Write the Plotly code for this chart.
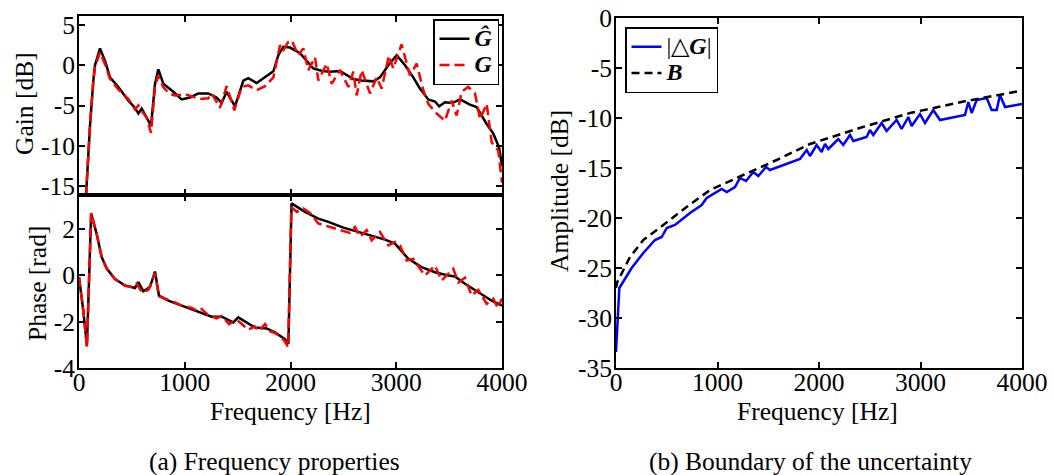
import plotly.graph_objects as go

# ---------------- data ----------------
# Gain of estimated model G-hat (black)
gh_freq = [50, 104, 135, 151, 199, 250, 293, 372, 467, 530, 561, 593, 630, 681, 719, 750, 797, 892, 971,
           1050, 1128, 1223, 1300, 1349, 1396, 1475, 1554, 1601, 1680, 1759, 1838, 1885, 1932, 1995, 2090,
           2216, 2300, 2374, 2468, 2594, 2673, 2783, 2846, 2925, 3004, 3083, 3161, 3224, 3303, 3366, 3407,
           3460, 3530, 3603, 3697, 3760, 3855, 3918, 3972, 4000]
gh_gain = [-20, -7.5, -2.0, 0.0, 2.1, 0.4, -1.5, -2.7, -4.4, -5.3, -6.0, -5.4, -6.3, -7.5, -2.3, -0.5, -2.3, -3.3,
           -4.25, -4.0, -3.5, -3.5, -4.0, -4.7, -3.3, -5.1, -1.9, -1.6, -2.2, -1.5, -0.75, 1.25, 2.3, 2.2, 1.5,
           -0.4, -0.7, -0.8, -0.7, -1.7, -1.9, -2.0, -1.5, 0.0, 1.25, 0.0, -1.5, -2.9, -4.25, -4.5, -5.1,
           -4.6, -4.7, -4.25, -4.9, -5.2, -7.3, -8.5, -10.2, -12.5]

# Gain of measured G (red dashed)
g_freq = [50, 104, 135, 151, 199, 250, 293, 372, 467, 530, 561, 593, 640, 681, 719, 750, 797, 850, 908,
          1002, 1144, 1223, 1255, 1333, 1396, 1469, 1538, 1601, 1680, 1759, 1838, 1901, 1935, 1979, 2011,
          2074, 2121, 2168, 2232, 2263, 2342, 2389, 2468, 2547, 2594, 2626, 2673, 2752, 2815, 2862, 2930,
          2972, 3050, 3130, 3193, 3256, 3303, 3382, 3461, 3524, 3571, 3619, 3681, 3745, 3792, 3855, 3903,
          3965, 4000]
g_gain = [-20, -7.5, -2.0, -0.2, 1.6, 0.0, -1.7, -3.0, -4.2, -5.5, -5.0, -5.7, -6.5, -8.4, -2.6, -1.3, -2.7,
          -3.5, -3.75, -3.6, -4.2, -4.1, -3.5, -5.3, -2.6, -5.6, -2.7, -2.5, -3.1, -2.6, -1.5, 2.5, 1.9, 2.9,
          3.1, 1.25, 2.1, -0.6, 1.0, -1.9, 0.2, -2.3, -0.6, -2.7, -0.8, -3.75, -0.6, -3.5, -1.5, -2.9, 1.2,
          -0.4, 2.6, -1.25, 0.2, -3.1, -4.8, -6.0, -6.9, -4.4, -6.25, -3.3, -2.7, -3.5, -6.7, -4.8, -9.6,
          -10.6, -14.6]

# Phase of G-hat (black)
ghp_freq = [0, 40, 75, 115, 167, 214, 262, 340, 435, 530, 561, 608, 671, 719, 756, 845, 971, 1066, 1160,
            1255, 1349, 1459, 1506, 1570, 1664, 1775, 1853, 1948, 1980, 2010, 2137, 2263, 2358, 2500, 2641,
            2768, 2894, 2988, 3114, 3240, 3366, 3492, 3555, 3650, 3776, 3903, 4000]
ghp_phase = [-0.07, -1.5, -3.04, 2.68, 1.8, 0.8, 0.3, -0.15, -0.43, -0.54, -0.29, -0.68, -0.5, 0.17, -0.87,
             -1.09, -1.3, -1.45, -1.6, -1.78, -1.78, -2.03, -1.81, -2.0, -2.25, -2.29, -2.46, -2.75, -2.95,
             3.12, 2.75, 2.46, 2.32, 2.07, 1.88, 1.74, 1.55, 1.38, 0.72, 0.36, 0.14, 0.0, -0.04, -0.36, -0.72,
             -1.09, -1.3]

# Phase of G (red dashed)
gp_freq = [0, 40, 75, 115, 167, 214, 262, 340, 435, 500, 545, 600, 660, 719, 756, 845, 900, 971, 1066,
           1130, 1160, 1220, 1300, 1349, 1420, 1459, 1500, 1540, 1600, 1660, 1700, 1760, 1800, 1860, 1940,
           1978, 2008, 2060, 2121, 2184, 2263, 2421, 2563, 2610, 2657, 2720, 2768, 2846, 2925, 2990, 3035,
           3099, 3161, 3200, 3272, 3366, 3429, 3539, 3587, 3650, 3713, 3776, 3855, 3918, 3960, 4000]
gp_phase = [-0.07, -1.5, -3.1, 2.7, 1.8, 0.8, 0.3, -0.15, -0.45, -0.5, -0.35, -0.75, -0.6, 0.1, -0.9, -1.05,
            -1.15, -1.3, -1.4, -1.55, -1.45, -1.7, -1.85, -1.75, -2.1, -2.0, -1.95, -2.1, -2.35, -2.2, -2.4,
            -2.1, -2.4, -2.5, -2.8, -3.1, 2.95, 2.75, 2.9, 2.7, 2.25, 2.03, 1.84, 2.1, 1.68, 1.96, 1.52, 1.88,
            1.3, 1.45, 1.3, 0.65, 0.72, 0.45, 0.0, 0.43, -0.22, 0.29, -0.3, -0.1, -0.87, -0.62, -1.23, -1.0,
            -1.4, -1.0]

# |dG| (blue)
dg_freq = [0, 33, 154, 269, 384, 450, 500, 581, 729, 844, 894, 1041, 1091, 1172, 1222, 1281, 1353, 1402,
           1478, 1517, 1813, 1879, 1911, 1977, 2026, 2059, 2092, 2190, 2239, 2305, 2338, 2469, 2502, 2535,
           2617, 2666, 2765, 2814, 2880, 2913, 2995, 3044, 3126, 3192, 3438, 3471, 3504, 3553, 3652, 3701,
           3751, 3783, 3833, 4000]
dg_amp = [-33.4, -27.0, -25.0, -23.5, -22.2, -21.9, -21.0, -20.7, -19.5, -18.7, -18.0, -17.1, -17.4, -16.9,
          -16.0, -16.3, -15.4, -15.8, -14.9, -15.2, -14.1, -13.2, -13.8, -12.7, -13.4, -12.6, -13.1, -12.1,
          -12.7, -11.7, -12.3, -11.9, -11.2, -11.7, -10.5, -11.3, -10.2, -11.1, -9.9, -10.8, -9.6, -10.5,
          -9.2, -10.2, -9.7, -8.4, -9.5, -8.2, -8.0, -9.2, -9.2, -7.7, -8.9, -8.6]

# Boundary B (black dashed)
b_freq = [0, 13, 138, 269, 466, 696, 926, 1254, 1583, 1911, 2400, 2897, 3450, 3980, 4000]
b_amp = [-27.0, -26.4, -23.9, -22.2, -20.7, -18.9, -17.2, -15.7, -14.2, -12.6, -11.0, -9.5, -8.3, -7.3, -7.27]

x_tickvals = [0, 1000, 2000, 3000, 4000]
x_ticktext = ["0", "1000", "2000", "3000", "4000"]
gain_tickvals = [5, 0, -5, -10, -15]
gain_ticktext = ["5", "0", "-5", "-10", "-15"]
phase_tickvals = [2, 0, -2, -4]
phase_ticktext = ["2", "0", "-2", "-4"]
amp_tickvals = [0, -5, -10, -15, -20, -25, -30, -35]
amp_ticktext = ["0", "-5", "-10", "-15", "-20", "-25", "-30", "-35"]

# ---------------- layout helpers ----------------
W, H = 1054, 475
FONT = "Liberation Serif"
FS = 25.5


def px_x(p):
    return p / W


def px_y(p):
    return 1 - p / H


def big(label):
    return '<span style="font-size:24px">' + label + '</span>'


fig = go.Figure()

fig.add_trace(go.Scatter(x=gh_freq, y=gh_gain, mode="lines", name=big("<b><i>Ĝ</i></b>"),
                         line=dict(color="black", width=2.5), xaxis="x", yaxis="y", legend="legend"))
fig.add_trace(go.Scatter(x=g_freq, y=g_gain, mode="lines", name=big("<b><i>G</i></b>"),
                         line=dict(color="#ff0000", width=2.5, dash="10px,5px"), xaxis="x", yaxis="y",
                         legend="legend"))
fig.add_trace(go.Scatter(x=ghp_freq, y=ghp_phase, mode="lines", showlegend=False,
                         line=dict(color="black", width=2.5), xaxis="x2", yaxis="y2"))
fig.add_trace(go.Scatter(x=gp_freq, y=gp_phase, mode="lines", showlegend=False,
                         line=dict(color="#ff0000", width=2.5, dash="10px,5px"), xaxis="x2", yaxis="y2"))
fig.add_trace(go.Scatter(x=dg_freq, y=dg_amp, mode="lines", name=big("|△<b><i>G</i></b>|"),
                         line=dict(color="#0000ff", width=2.5), xaxis="x3", yaxis="y3", legend="legend2"))
fig.add_trace(go.Scatter(x=b_freq, y=b_amp, mode="lines", name=big("<b><i>B</i></b>"),
                         line=dict(color="black", width=2.5, dash="8px,5px"), xaxis="x3", yaxis="y3",
                         legend="legend2"))

axis_common = dict(showline=True, linecolor="black", linewidth=2, mirror="allticks", ticks="inside",
                   ticklen=6, tickwidth=1.5, tickcolor="black", showgrid=False, zeroline=False,
                   automargin=False,
                   tickfont=dict(family=FONT, size=FS, color="black"))

left_dom = [px_x(79), px_x(502)]
right_dom = [px_x(616), px_x(1022)]

fig.update_layout(
    template="none",
    width=W, height=H,
    margin=dict(l=0, r=0, t=0, b=0, pad=0, autoexpand=False),
    paper_bgcolor="white", plot_bgcolor="white",
    font=dict(family=FONT, size=FS, color="black"),
    xaxis=dict(domain=left_dom, range=[0, 4000], anchor="y", tickvals=x_tickvals, showticklabels=False,
               **axis_common),
    yaxis=dict(domain=[px_y(195), px_y(16)], range=[-16.125, 6.125], anchor="x", tickvals=gain_tickvals,
               ticktext=gain_ticktext, ticklabelstandoff=-3, **axis_common),
    xaxis2=dict(domain=left_dom, range=[0, 4000], anchor="y2", tickvals=x_tickvals, ticktext=x_ticktext,
                ticklabelstandoff=-10, **axis_common),
    yaxis2=dict(domain=[px_y(368), px_y(195)], range=[-4, 3.48], anchor="x2", tickvals=phase_tickvals,
                ticktext=phase_ticktext, ticklabelstandoff=-3, **axis_common),
    xaxis3=dict(domain=right_dom, range=[0, 4000], anchor="y3", tickvals=x_tickvals, ticktext=x_ticktext,
                ticklabelstandoff=-10, **axis_common),
    yaxis3=dict(domain=[px_y(368), px_y(18)], range=[-35, 0], anchor="x3", tickvals=amp_tickvals,
                ticktext=amp_ticktext, ticklabelstandoff=-3, **axis_common),
    legend=dict(x=px_x(499), y=px_y(19), xanchor="right", yanchor="top", bgcolor="white",
                bordercolor="black", borderwidth=1.5, font=dict(family=FONT, size=18, color="black"),
                tracegroupgap=0, itemwidth=30),
    legend2=dict(x=px_x(625), y=px_y(27), xanchor="left", yanchor="top", bgcolor="white",
                 bordercolor="black", borderwidth=1.5, font=dict(family=FONT, size=18, color="black"),
                 tracegroupgap=0, itemwidth=30),
    showlegend=True,
)

annots = [
    dict(text="Gain [dB]", x=px_x(24), y=px_y(104), textangle=-90),
    dict(text="Phase [rad]", x=px_x(37), y=px_y(284), textangle=-90),
    dict(text="Amplitude [dB]", x=px_x(559), y=px_y(191), textangle=-90),
    dict(text="Frequency [Hz]", x=px_x(290), y=px_y(411)),
    dict(text="Frequency [Hz]", x=px_x(817), y=px_y(411)),
    dict(text="(a) Frequency properties", x=px_x(274), y=px_y(461)),
    dict(text="(b) Boundary of the uncertainty", x=px_x(810), y=px_y(461)),
]
for a in annots:
    fig.add_annotation(xref="paper", yref="paper", showarrow=False, xanchor="center", yanchor="middle",
                       font=dict(family=FONT, size=FS, color="black"), **a)

fig.write_html("out.html")
